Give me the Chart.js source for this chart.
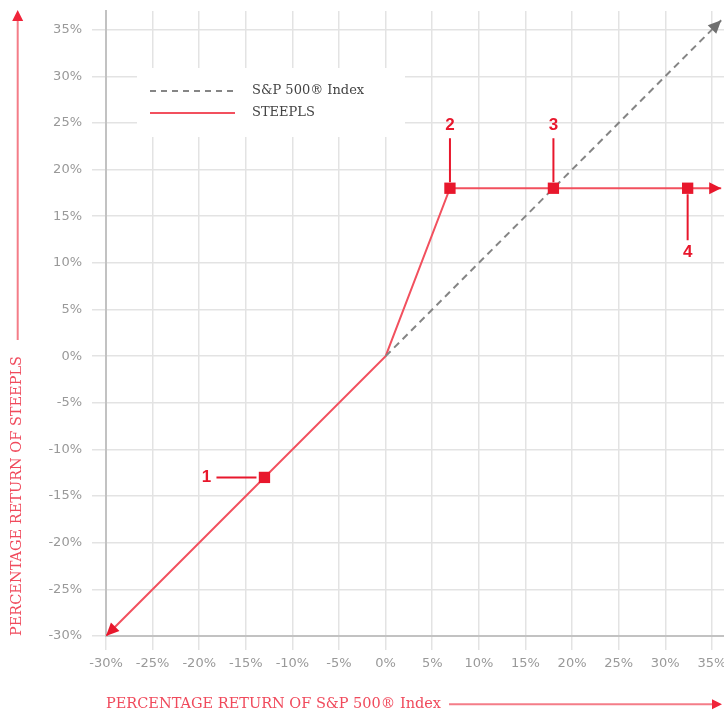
<!DOCTYPE html>
<html>
<head>
<meta charset="utf-8">
<script src="https://cdn.jsdelivr.net/npm/chart.js@4"></script>
<style>
  html, body { margin: 0; padding: 0; background: #fff; overflow: hidden; }
  #wrap { width: 724px; height: 715px; position: relative; }
  #chart { display: block; }
</style>
</head>
<body>
<div id="wrap"><canvas id="chart"></canvas></div>
<script>
// S&P 500 line (index return vs itself)
const spxX = [0, 36];
const spxY = [0, 36];
// STEEPLS payoff
const steeplsX = [-30, 0, 6.9, 36];
const steeplsY = [-30, 0, 18, 18];
// numbered points
const markerX = [-13, 6.9, 18, 32.4];
const markerY = [-13, 18, 18, 18];
const markerLabels = ['1', '2', '3', '4'];
const markerSides = ['left', 'up', 'up', 'down'];

const seriesNames = ['S&P 500® Index', 'STEEPLS'];
const xTitle = 'PERCENTAGE RETURN OF S&P 500® Index';
const yTitle = 'PERCENTAGE RETURN OF STEEPLS';

const axisMin = -30, xMax = 36.3, yMax = 37, tickStep = 5;

const RED_LINE = '#f2505e';
const RED_MARK = '#e8172c';
const TITLE_RED = '#f04a5c';
const GRAY_DASH = '#858585';
const TITLE_FONT = { family: '"DejaVu Serif", serif', size: 14.5 };
const Y_TITLE_PAD = 9;
const X_TITLE_PAD = 2;

function toPoints(xs, ys) {
    return xs.map((x, i) => ({ x: x, y: ys[i] }));
}

function arrowHead(ctx, fromX, fromY, toX, toY, len, half, color) {
    const a = Math.atan2(toY - fromY, toX - fromX);
    ctx.save();
    ctx.fillStyle = color;
    ctx.translate(toX, toY);
    ctx.rotate(a);
    ctx.beginPath();
    ctx.moveTo(0, 0);
    ctx.lineTo(-len, -half);
    ctx.lineTo(-len, half);
    ctx.closePath();
    ctx.fill();
    ctx.restore();
}

// let the plot run to the right edge of the canvas, like the original
const fullRight = {
    id: 'fullRight',
    afterLayout(chart) {
        const a = chart.chartArea;
        const x = chart.scales.x;
        a.right = chart.width;
        a.width = a.right - a.left;
        x.right = chart.width;
        x.width = x.right - x.left;
        x.configure();
    }
};

// legend box drawn over the grid, before the lines
const boxLegend = {
    id: 'boxLegend',
    beforeDatasetsDraw(chart) {
        const ctx = chart.ctx;
        const a = chart.chartArea;
        const x0 = a.left + 31, y0 = a.top + 57;
        ctx.save();
        ctx.fillStyle = '#fff';
        ctx.fillRect(x0, y0, 268, 69);
        const rows = [
            { color: GRAY_DASH, dash: [6, 5], text: seriesNames[0] },
            { color: RED_LINE, dash: [], text: seriesNames[1] }
        ];
        rows.forEach((r, i) => {
            const y = y0 + 23 + i * 22;
            ctx.strokeStyle = r.color;
            ctx.lineWidth = 2;
            ctx.setLineDash(r.dash);
            ctx.beginPath();
            ctx.moveTo(x0 + 13, y);
            ctx.lineTo(x0 + 98, y);
            ctx.stroke();
            ctx.setLineDash([]);
            ctx.fillStyle = '#444';
            ctx.font = '13px "DejaVu Serif", serif';
            ctx.textBaseline = 'middle';
            ctx.fillText(r.text, x0 + 115, y);
        });
        ctx.restore();
    }
};

// arrow heads, numbered callouts and axis arrows
const decorations = {
    id: 'decorations',
    afterDatasetsDraw(chart) {
        const ctx = chart.ctx;
        const spx = chart.getDatasetMeta(1).data;
        const stp = chart.getDatasetMeta(2).data;
        const n = stp.length;
        arrowHead(ctx, spx[0].x, spx[0].y, spx[1].x, spx[1].y, 13, 6, '#6f6f6f');
        arrowHead(ctx, stp[n - 2].x, stp[n - 2].y, stp[n - 1].x, stp[n - 1].y, 12, 6, RED_MARK);
        arrowHead(ctx, stp[1].x, stp[1].y, stp[0].x, stp[0].y, 13, 6, RED_MARK);

        const marks = chart.getDatasetMeta(0).data;
        ctx.save();
        ctx.strokeStyle = RED_MARK;
        ctx.fillStyle = RED_MARK;
        ctx.lineWidth = 2;
        ctx.font = 'bold 17px "Liberation Sans", Arial, sans-serif';
        ctx.textAlign = 'center';
        ctx.textBaseline = 'middle';
        marks.forEach((m, i) => {
            const side = markerSides[i];
            let tx, ty;
            ctx.beginPath();
            if (side === 'left') {
                ctx.moveTo(m.x - 8, m.y);
                ctx.lineTo(m.x - 48, m.y);
                tx = m.x - 58; ty = m.y;
            } else if (side === 'up') {
                ctx.moveTo(m.x, m.y - 6);
                ctx.lineTo(m.x, m.y - 50);
                tx = m.x; ty = m.y - 63;
            } else {
                ctx.moveTo(m.x, m.y + 6);
                ctx.lineTo(m.x, m.y + 52);
                tx = m.x; ty = m.y + 64;
            }
            ctx.stroke();
            ctx.fillText(markerLabels[i], tx, ty);
        });
        ctx.restore();
    },
    afterDraw(chart) {
        const ctx = chart.ctx;
        const a = chart.chartArea;
        ctx.save();
        ctx.font = TITLE_FONT.size + 'px ' + TITLE_FONT.family;
        ctx.strokeStyle = '#f47d88';
        ctx.lineWidth = 2;
        const lh = TITLE_FONT.size * 1.2;
        // y title arrow
        const yw = ctx.measureText(yTitle).width;
        const cx = chart.scales.y.left + lh / 2 + Y_TITLE_PAD;
        const yStart = a.bottom - yw - 16;
        ctx.beginPath();
        ctx.moveTo(cx, yStart);
        ctx.lineTo(cx, a.top + 8);
        ctx.stroke();
        arrowHead(ctx, cx, yStart, cx, a.top - 1, 11, 5.5, '#f0243a');
        // x title arrow
        const xw = ctx.measureText(xTitle).width;
        const cy = chart.height - lh / 2 - X_TITLE_PAD;
        const xStart = a.left + xw + 8;
        ctx.beginPath();
        ctx.moveTo(xStart, cy);
        ctx.lineTo(a.right - 9, cy);
        ctx.stroke();
        arrowHead(ctx, xStart, cy, a.right - 2, cy, 10, 5, '#f0243a');
        ctx.restore();
    }
};

const tickFont = { family: '"DejaVu Sans", sans-serif', size: 13 };
const gridStyle = { color: '#e3e3e3', lineWidth: 1.5, tickLength: 14, tickColor: '#e3e3e3' };

new Chart(document.getElementById('chart'), {
    type: 'scatter',
    data: {
        datasets: [
            {
                label: 'points',
                data: toPoints(markerX, markerY),
                showLine: false,
                pointStyle: 'rect',
                pointRadius: 8,
                pointBackgroundColor: RED_MARK,
                pointBorderWidth: 0
            },
            {
                label: seriesNames[0],
                data: toPoints(spxX, spxY),
                showLine: true,
                borderColor: GRAY_DASH,
                borderWidth: 2,
                borderDash: [7, 5],
                pointRadius: 0
            },
            {
                label: seriesNames[1],
                data: toPoints(steeplsX, steeplsY),
                showLine: true,
                borderColor: RED_LINE,
                borderWidth: 2,
                pointRadius: 0
            }
        ]
    },
    options: {
        responsive: true,
        maintainAspectRatio: false,
        animation: false,
        layout: { padding: { top: 11, left: 0, right: 0, bottom: 0 } },
        plugins: {
            legend: { display: false },
            tooltip: { enabled: false }
        },
        scales: {
            x: {
                type: 'linear',
                min: axisMin,
                max: xMax,
                grid: gridStyle,
                border: { color: '#c2c2c2', width: 2 },
                ticks: {
                    stepSize: tickStep,
                    includeBounds: false,
                    color: '#999',
                    font: tickFont,
                    padding: 6,
                    maxRotation: 0,
                    callback: v => v + '%'
                },
                title: {
                    display: true,
                    text: xTitle,
                    align: 'start',
                    color: TITLE_RED,
                    font: TITLE_FONT,
                    padding: { top: 0, bottom: X_TITLE_PAD }
                },
                afterFit(scale) {
                    scale.height = 79;
                    scale.paddingLeft = 0;
                    scale.paddingRight = 0;
                }
            },
            y: {
                type: 'linear',
                min: axisMin,
                max: yMax,
                grid: gridStyle,
                border: { color: '#c2c2c2', width: 2 },
                ticks: {
                    stepSize: tickStep,
                    includeBounds: false,
                    color: '#999',
                    font: tickFont,
                    padding: 10,
                    callback: v => v + '%'
                },
                title: {
                    display: true,
                    text: yTitle,
                    align: 'start',
                    color: TITLE_RED,
                    font: TITLE_FONT,
                    padding: { top: Y_TITLE_PAD, bottom: 0 }
                },
                afterFit(scale) {
                    scale.width = 106;
                    scale.paddingTop = 0;
                    scale.paddingBottom = 0;
                }
            }
        }
    },
    plugins: [fullRight, boxLegend, decorations]
});
</script>
</body>
</html>
